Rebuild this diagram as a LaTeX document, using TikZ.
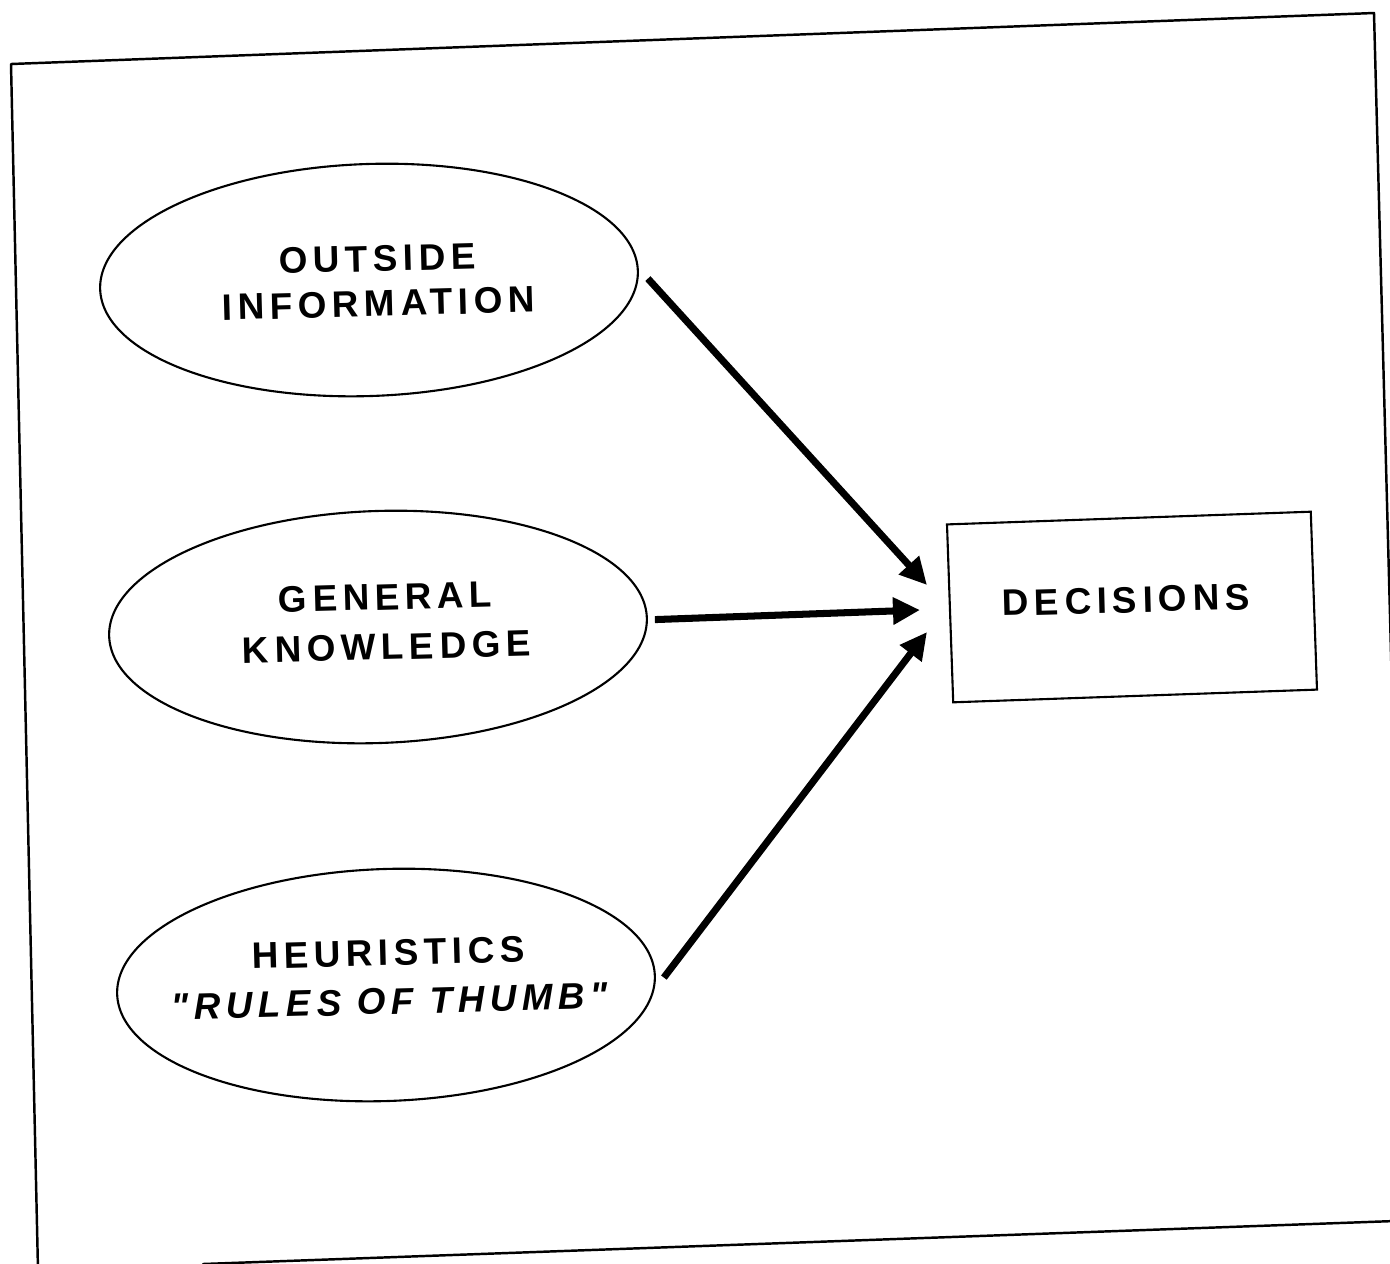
\documentclass[tikz,border=0pt]{standalone}
\usepackage{fontspec}
\setmainfont{Liberation Sans}
\usetikzlibrary{shapes.geometric,arrows.meta}
\newfontfamily\labelfont[LetterSpace=15]{Liberation Sans}
\begin{document}
\begin{tikzpicture}[
  x=1cm, y=1cm,
  framestroke/.style={line width=0.7pt, line cap=round, line join=round},
  bubble/.style={ellipse, draw, line width=0.6pt, inner sep=0pt,
    minimum width=5.38cm, minimum height=2.32cm, rotate=2},
  outbox/.style={rectangle, draw, line width=0.6pt, inner sep=0pt,
    minimum width=3.64cm, minimum height=1.78cm, rotate=2},
  caption/.style={inner sep=0pt, rotate=1.5, align=center,
    font=\labelfont\bfseries\fontsize{10.5}{12.8}\selectfont},
  feed/.style={line width=2pt, -{Triangle[length=0.27cm,width=0.26cm]}}
]
\useasboundingbox (0,0) rectangle (13.9,-12.63);
\clip (0,0) rectangle (13.9,-12.63);

% page frame
\draw[framestroke] (0.38,-12.7) -- (0.11,-0.64) -- (13.74,-0.13) -- (13.92,-6.9);
\draw[framestroke] (2.03,-12.64) -- (13.95,-12.21);

% inputs
\node[bubble] (out) at (3.69,-2.80) {};
\node[bubble] (gen) at (3.78,-6.27) {};
\node[bubble] (heu) at (3.86,-9.85) {};
\node[caption] (outtext) at (3.78,-2.81) {OUTSIDE\\[0pt]INFORMATION};
\node[caption] (gentext) at (3.86,-6.22) {GENERAL\\[1.4pt]KNOWLEDGE};
\node[caption] (heutext) at (3.89,-9.77) {HEURISTICS\\[1.1pt]\itshape "RULES OF THUMB"};

% output
\node[outbox] (dec) at (11.32,-6.07) {};
\node[caption] (dectext) at (11.26,-6.00) {DECISIONS};

% arrow starts just off the ellipses, tips in front of the box
\path (out.east) ++(0.09,-0.08) coordinate (s1);
\path (gen.east) ++(0.07,-0.02) coordinate (s2);
\path (heu.east) ++(0.08,-0.02) coordinate (s3);
\coordinate (t1) at (9.27,-5.85);
\coordinate (t2) at (9.20,-6.10);
\coordinate (t3) at (9.27,-6.32);

\draw[feed] (s1) -- (t1);
\draw[feed] (s2) -- (t2);
\draw[feed] (s3) -- (t3);
\end{tikzpicture}
\end{document}
